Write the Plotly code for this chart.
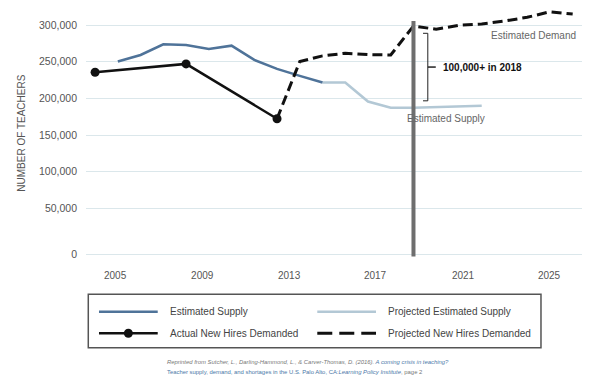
import plotly.graph_objects as go

# ---- data ----
supply_years = [2005, 2006, 2007, 2008, 2009, 2010, 2011, 2012, 2013, 2014]
supply_vals = [250200, 259200, 273800, 272800, 267400, 271900, 252400, 240200, 230700, 221600]

proj_supply_years = [2014, 2015, 2016, 2017, 2018, 2019, 2020, 2021]
proj_supply_vals = [221600, 221600, 195800, 187200, 187300, 188000, 189000, 190000]

actual_years = [2004, 2008, 2012]
actual_vals = [235700, 247000, 172300]

proj_demand_years = [2012, 2013, 2014, 2015, 2016, 2017, 2018, 2019, 2020, 2021, 2022, 2023, 2024, 2025]
proj_demand_vals = [172300, 250100, 257900, 261500, 259600, 259200, 298600, 294200, 299600, 301400,
                    305400, 310500, 318000, 315000]

x_tick_labels = ["2005", "2009", "2013", "2017", "2021", "2025"]
y_tick_labels = ["0", "50,000", "100,000", "150,000", "200,000", "250,000", "300,000"]

marker_year = 2018
gap_top, gap_bottom = 288700, 196700

legend_names = ["Estimated Supply", "Projected Estimated Supply",
                "Actual New Hires Demanded", "Projected New Hires Demanded"]

# ---- styles ----
C_SUP = "#4f7399"
C_PSUP = "#b3c8d5"
C_BLK = "#111111"
C_GRID = "#dbe7eb"
C_TXT = "#555555"
FONT = "Liberation Sans, Arial, sans-serif"

fig = go.Figure()
fig.add_trace(go.Scatter(x=proj_supply_years, y=proj_supply_vals, mode="lines",
                         line=dict(color=C_PSUP, width=2.6), showlegend=False, name=legend_names[1]))
fig.add_trace(go.Scatter(x=supply_years, y=supply_vals, mode="lines",
                         line=dict(color=C_SUP, width=2.6), showlegend=False, name=legend_names[0]))
fig.add_trace(go.Scatter(x=proj_demand_years, y=proj_demand_vals, mode="lines",
                         line=dict(color=C_BLK, width=3, dash="10px,5px"), showlegend=False,
                         name=legend_names[3]))
fig.add_trace(go.Scatter(x=actual_years, y=actual_vals, mode="lines+markers",
                         line=dict(color=C_BLK, width=2.5), marker=dict(color=C_BLK, size=9),
                         showlegend=False, name=legend_names[2]))

# x tick label positions as they appear in the picture
x_tick_pos = [2004.88, 2008.71, 2012.53, 2016.31, 2020.18, 2023.96]
y_tick_pos = [-12700, 50000, 100000, 150000, 200000, 250000, 300000]

fig.update_xaxes(range=[2003.6, 2025.41], showgrid=False, zeroline=False, showline=False,
                 tickvals=x_tick_pos, ticktext=x_tick_labels, ticks="",
                 tickfont=dict(family=FONT, size=10, color=C_TXT), ticklabelstandoff=10)
fig.update_yaxes(range=[-17440, 327250], showgrid=True, gridcolor=C_GRID, gridwidth=1.3,
                 zeroline=False, showline=False, tickvals=y_tick_pos, ticktext=y_tick_labels,
                 ticks="", tickfont=dict(family=FONT, size=10.5, color=C_TXT), ticklabelstandoff=8)

shapes = []
# vertical 2018 bar
shapes.append(dict(type="line", xref="x", yref="y", x0=marker_year, x1=marker_year,
                   y0=-15500, y1=305500, line=dict(color="#6e6e6e", width=4)))
# bracket
bx = 2018.63
shapes += [
    dict(type="line", xref="x", yref="y", x0=bx, x1=bx, y0=gap_bottom, y1=gap_top,
         line=dict(color="#222", width=1)),
    dict(type="line", xref="x", yref="y", x0=2018.42, x1=bx, y0=gap_top, y1=gap_top,
         line=dict(color="#222", width=1)),
    dict(type="line", xref="x", yref="y", x0=2018.42, x1=bx, y0=gap_bottom, y1=gap_bottom,
         line=dict(color="#222", width=1)),
    dict(type="line", xref="x", yref="y", x0=bx, x1=2018.98,
         y0=(gap_top + gap_bottom) / 2, y1=(gap_top + gap_bottom) / 2,
         line=dict(color="#222", width=1.5)),
]
# legend box
shapes.append(dict(type="rect", xref="paper", yref="paper", x0=0.0046, x1=0.9173,
                   y0=-0.3545, y1=-0.1435, line=dict(color="#555", width=1.5)))
row_y = [-0.2123, -0.2976]
col_x = [(0.0262, 0.1446, 0.1647), (0.4663, 0.5847, 0.6048)]
samples = [
    (0, 0, dict(color=C_SUP, width=2.6)),
    (1, 0, dict(color=C_PSUP, width=2.6)),
    (0, 1, dict(color=C_BLK, width=2.5)),
    (1, 1, dict(color=C_BLK, width=3, dash="15px,7px")),
]
annotations = []
for i, (c, r, ln) in enumerate(samples):
    x0, x1, tx = col_x[c]
    shapes.append(dict(type="line", xref="paper", yref="paper", x0=x0, x1=x1,
                       y0=row_y[r], y1=row_y[r], line=ln))
    annotations.append(dict(xref="paper", yref="paper", x=tx, y=row_y[r], text=legend_names[i],
                            showarrow=False, xanchor="left", yanchor="middle",
                            font=dict(family=FONT, size=10, color="#444")))
shapes.append(dict(type="circle", xref="paper", yref="paper", xsizemode="pixel", ysizemode="pixel",
                   xanchor=(col_x[0][0] + col_x[0][1]) / 2, yanchor=row_y[1],
                   x0=-4.5, x1=4.5, y0=-4.5, y1=4.5, fillcolor=C_BLK, line=dict(color=C_BLK, width=0)))

annotations += [
    dict(xref="x", yref="y", x=2018.98, y=(gap_top + gap_bottom) / 2, text="<b>100,000+ in 2018</b>",
         showarrow=False, xanchor="left", yanchor="middle", xshift=5,
         font=dict(family=FONT, size=10, color="#111")),
    dict(xref="x", yref="y", x=2023.27, y=285400, text="Estimated Demand", showarrow=False,
         font=dict(family=FONT, size=10, color="#666")),
    dict(xref="x", yref="y", x=2019.43, y=172000, text="Estimated Supply", showarrow=False,
         font=dict(family=FONT, size=10, color="#666")),
    dict(xref="paper", yref="paper", x=-0.1317, y=0.494, text="NUMBER OF TEACHERS", textangle=-90,
         showarrow=False, xanchor="center", yanchor="middle",
         font=dict(family=FONT, size=10, color=C_TXT)),
    dict(xref="paper", yref="paper", x=0.159, y=-0.411, xanchor="left", yanchor="middle", showarrow=False,
         text='<i><span style="color:#777">Reprinted from Sutcher, L., Darling-Hammond, L., &amp; '
              'Carver-Thomas, D. (2016).</span> <span style="color:#4a78a8">A coming crisis in teaching?</span></i>',
         font=dict(family=FONT, size=5.9, color="#777")),
    dict(xref="paper", yref="paper", x=0.159, y=-0.4506, xanchor="left", yanchor="middle", showarrow=False,
         text='<span style="color:#4a78a8">Teacher supply, demand, and shortages in the U.S. Palo Alto, CA:'
              '<i>Learning Policy Institute</i></span><span style="color:#777">, page 2</span>',
         font=dict(family=FONT, size=5.9, color="#4a78a8")),
]

fig.update_layout(width=599, height=381, margin=dict(l=86, r=17, t=5, b=123),
                  plot_bgcolor="white", paper_bgcolor="white", shapes=shapes,
                  annotations=annotations, showlegend=False)

fig.write_html("out.html", config={"displayModeBar": False},
               post_script="document.body.style.margin='0px';")
